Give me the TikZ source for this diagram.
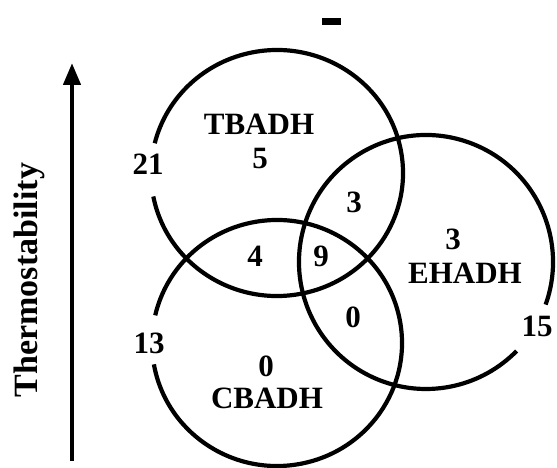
\documentclass[tikz,border=0pt]{standalone}
\usepackage{fontspec}
\setmainfont{Liberation Serif}
\usetikzlibrary{arrows.meta}
\begin{document}
\begin{tikzpicture}[x=1pt,y=1pt,
  ring/.style={line width=4.2pt},
  lbl/.style={font=\fontsize{31}{31}\selectfont\bfseries, inner sep=0pt, anchor=center},
  axislbl/.style={font=\fontsize{34}{34}\selectfont\bfseries, inner sep=0pt, rotate=90, anchor=base},
  dashbar/.style={fill=black, draw=none, minimum width=19pt, minimum height=7pt, inner sep=0pt},
  arrowline/.style={line width=4.5pt, -{Triangle[length=22pt,width=17pt]}}
]
\useasboundingbox (0,0) rectangle (557,467);
% circle centres
\coordinate (tb) at (277,294);
\coordinate (cb) at (277,124);
\coordinate (eh) at (426,205);
% TBADH circle (gap at the label 21)
\draw[ring] (tb) ++(191:126pt and 123pt) arc[start angle=191, end angle=526, x radius=126pt, y radius=123pt];
% CBADH circle (gap at the label 13)
\draw[ring] (cb) ++(190:125pt and 123pt) arc[start angle=190, end angle=527, x radius=125pt, y radius=123pt];
% EHADH circle (gap at the label 15)
\draw[ring] (eh) ++(-19.6:127pt and 127pt) arc[start angle=-19.6, end angle=315.5, x radius=127pt, y radius=127pt];
% arrow
\coordinate (abot) at (72,6);
\coordinate (atop) at (72,404);
\draw[arrowline] (abot) -- (atop);
\node[axislbl] (thermo) at (37,187) {Thermostability};
% top dash
\node[dashbar] (dash) at (331.5,445.5) {};
% labels
\node[lbl] (tbname) at (259,343) {TBADH};
\node[lbl] (tbonly) at (260,308) {5};
\node[lbl] (tbout) at (148,303) {21};
\node[lbl] (tbeh) at (354,265) {3};
\node[lbl] (tbcb) at (255,211) {4};
\node[lbl] (all) at (321,211) {9};
\node[lbl] (ehonly) at (453,228) {3};
\node[lbl] (ehname) at (465,194) {EHADH};
\node[lbl] (cbeh) at (353,150) {0};
\node[lbl] (cbout) at (149,124) {13};
\node[lbl] (cbonly) at (266,101) {0};
\node[lbl] (cbname) at (267,69) {CBADH};
\node[lbl] (ehout) at (537,141) {15};
\end{tikzpicture}
\end{document}
